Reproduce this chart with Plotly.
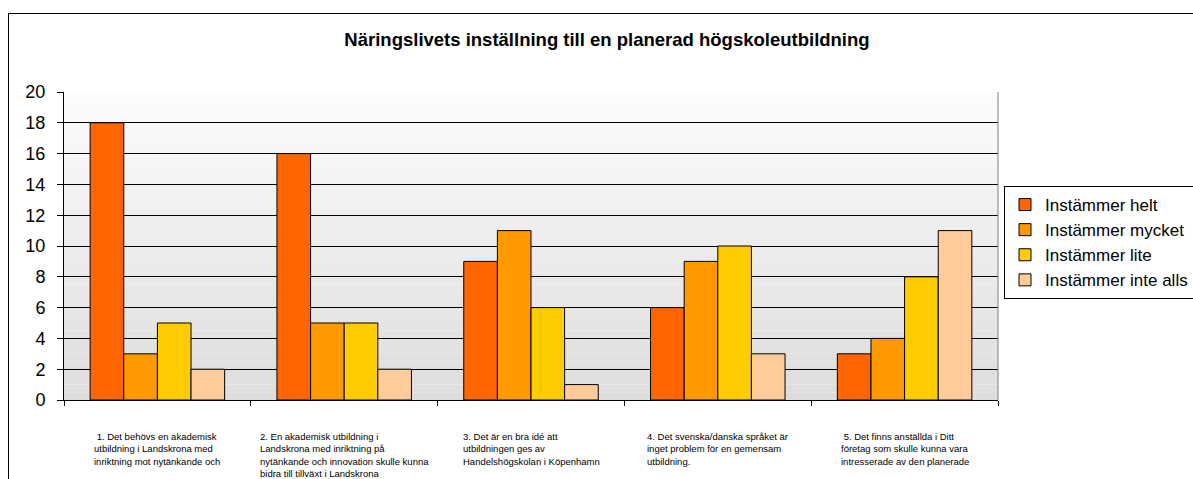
import plotly.graph_objects as go

categories = ["Q1", "Q2", "Q3", "Q4", "Q5"]
category_labels = [
    "\u00a01. Det behövs en akademisk<br>utbildning i Landskrona med<br>inriktning mot nytänkande och",
    "2. En akademisk utbildning i<br>Landskrona med inriktning på<br>nytänkande och innovation skulle kunna<br>bidra till tillväxt i Landskrona",
    "3. Det är en bra idé att<br>utbildningen ges av<br>Handelshögskolan i Köpenhamn",
    "4. Det svenska/danska språket är<br>inget problem för en gemensam<br>utbildning.",
    "\u00a05. Det finns anställda i Ditt<br>företag som skulle kunna vara<br>intresserade av den planerade",
]
series_names = ["Instämmer helt", "Instämmer mycket", "Instämmer lite", "Instämmer inte alls"]
helt = [18, 16, 9, 6, 3]
mycket = [3, 5, 11, 9, 4]
lite = [5, 5, 6, 10, 8]
inte_alls = [2, 2, 1, 3, 11]
series_values = [helt, mycket, lite, inte_alls]
colors = ["#FF6600", "#FF9900", "#FFCC00", "#FFCC99"]
title_text = "Näringslivets inställning till en planerad högskoleutbildning"

FONT = "Arial, 'Liberation Sans', sans-serif"
W, H = 1193, 479
L, R, T, B = 64, 195, 92, 79
PW, PH = W - L - R, H - T - B

fig = go.Figure()
for name, vals, col in zip(series_names, series_values, colors):
    fig.add_trace(go.Bar(
        x=categories, y=vals, name=name,
        marker=dict(color=col, line=dict(color="#000000", width=1)),
    ))

# gradient background bands
shapes = []
n = 40
top = (252, 252, 252)
bot = (221, 221, 221)
for i in range(n):
    t = i / (n - 1)
    c = tuple(round(bot[k] + (top[k] - bot[k]) * t) for k in range(3))
    shapes.append(dict(type="rect", xref="x domain", yref="y domain",
                       x0=0, x1=1, y0=i / n, y1=(i + 1) / n,
                       fillcolor="rgb(%d,%d,%d)" % c, line=dict(width=0), layer="below"))
# plot area right border
shapes.append(dict(type="line", xref="x domain", yref="y domain", x0=1, x1=1, y0=0, y1=1,
                   line=dict(color="#808080", width=1), layer="above"))
# outer chart frame
shapes.append(dict(type="rect", xref="paper", yref="paper",
                   x0=(8.5 - L) / PW, x1=1.5, y0=-1, y1=(H - B - 13.5) / PH,
                   line=dict(color="#000000", width=1), fillcolor="rgba(0,0,0,0)"))

annotations = []
for cat, lab in zip(categories, category_labels):
    annotations.append(dict(x=cat, y=0, xref="x", yref="paper", yshift=-29,
                            text=lab, showarrow=False, xanchor="center", yanchor="top",
                            align="left", font=dict(family=FONT, size=9.5, color="#000000")))

fig.update_layout(
    width=W, height=H,
    margin=dict(l=L, r=R, t=T, b=B, autoexpand=False),
    paper_bgcolor="#ffffff", plot_bgcolor="#ffffff",
    barmode="group", bargap=0.28, bargroupgap=0,
    font=dict(family=FONT, color="#000000"),
    title=dict(text="<b>" + title_text + "</b>", x=(607 - L) / PW, xref="paper", xanchor="center",
               y=1 - 40 / H, yref="container", yanchor="middle",
               font=dict(family=FONT, size=18.5, color="#000000")),
    xaxis=dict(type="category", showticklabels=False, tickson="boundaries", ticks="outside",
               ticklen=5, tickcolor="#000000", showline=True, linecolor="#000000", linewidth=1,
               showgrid=False, zeroline=False),
    yaxis=dict(range=[0, 20], dtick=2, ticks="outside", ticklen=6, tickcolor="#000000",
               showline=True, linecolor="#000000", linewidth=1, showgrid=True,
               gridcolor="#000000", gridwidth=1, zeroline=False, ticklabelstandoff=8,
               tickfont=dict(family=FONT, size=18, color="#000000")),
    legend=dict(x=1004 / W, xref="container", y=1 - 186 / H, yref="container",
                xanchor="left", yanchor="top", bordercolor="#000000", borderwidth=1,
                bgcolor="#ffffff", font=dict(family=FONT, size=17, color="#000000"),
                tracegroupgap=0),
    shapes=shapes, annotations=annotations, showlegend=True,
)

fig.write_html("out.html", config={"displayModeBar": False},
               post_script="document.body.style.margin='0';document.body.style.overflow='hidden';")
